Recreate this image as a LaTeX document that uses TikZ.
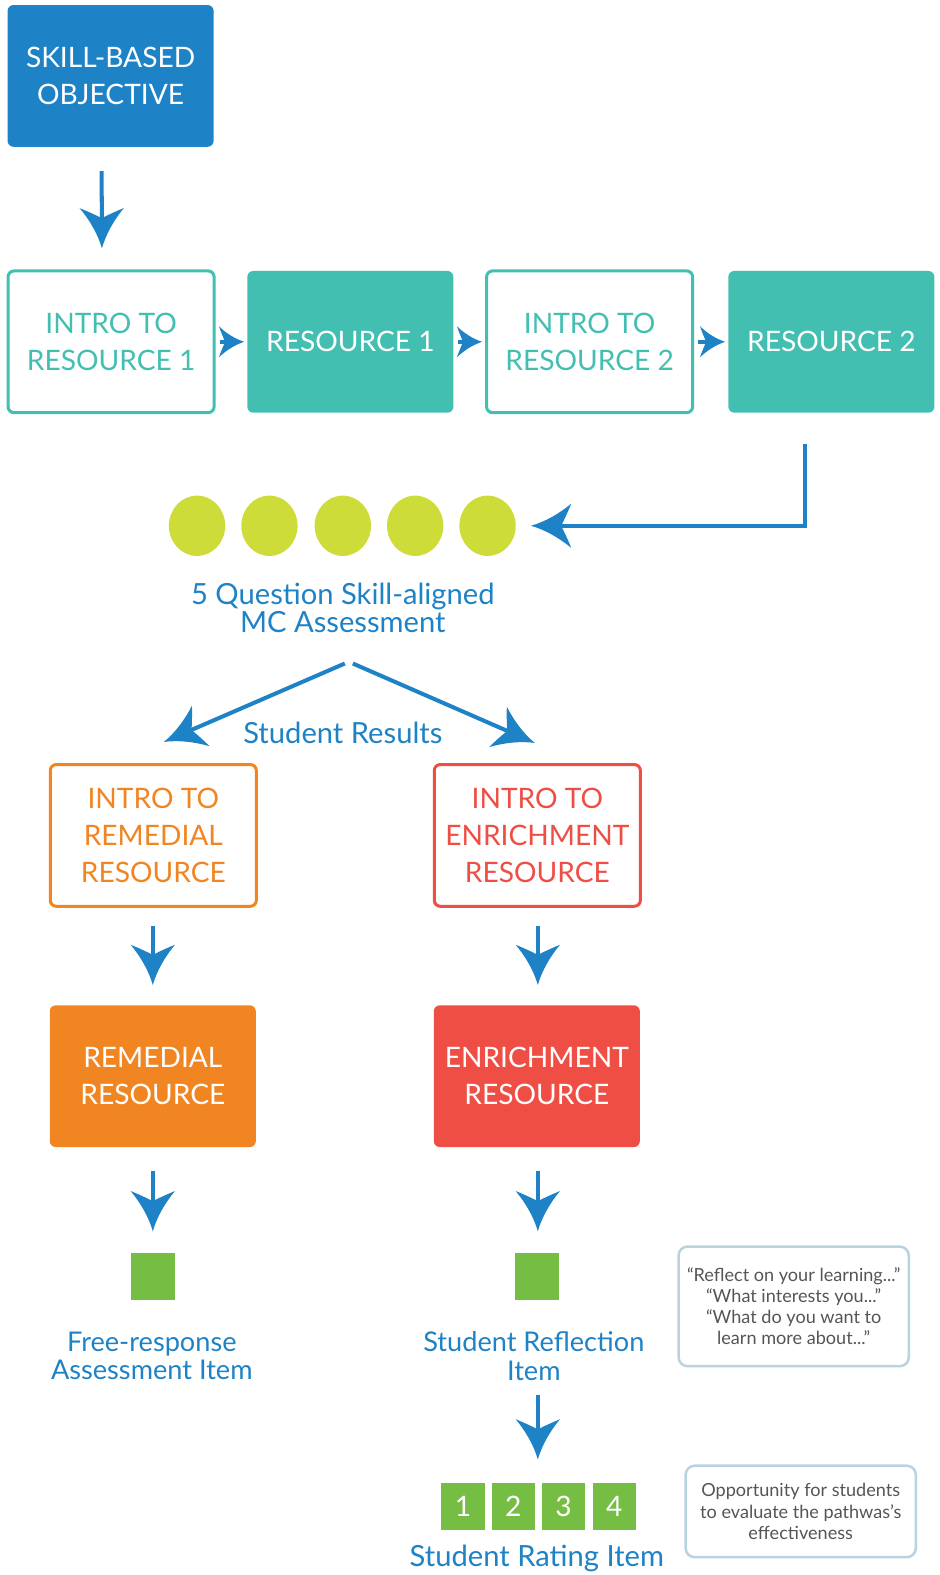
\documentclass[tikz,border=0pt]{standalone}
\usepackage{fontspec}
\setmainfont{Lato}
\usetikzlibrary{arrows.meta,shapes.geometric}
\definecolor{cblue}{HTML}{1E82C6}
\definecolor{cteal}{HTML}{43BFB1}
\definecolor{clime}{HTML}{CDDC39}
\definecolor{corange}{HTML}{F08522}
\definecolor{cred}{HTML}{EF4E45}
\definecolor{cgreen}{HTML}{76BE43}
\definecolor{cgrayb}{HTML}{B9D3E1}
\definecolor{cgrayt}{HTML}{555555}
\pgfdeclarearrow{
  name = BigTip,
  setup code = {
    \pgfarrowssettipend{0pt}
    \pgfarrowssetlineend{-28pt}
    \pgfarrowssetbackend{-40pt}
    \pgfarrowshullpoint{0pt}{0pt}
    \pgfarrowsupperhullpoint{-40pt}{22pt}
  },
  drawing code = {
    \pgfpathmoveto{\pgfpointorigin}
    \pgfpathcurveto{\pgfpoint{-14pt}{4pt}}{\pgfpoint{-28pt}{12pt}}{\pgfpoint{-40pt}{22pt}}
    \pgfpathcurveto{\pgfpoint{-36pt}{12pt}}{\pgfpoint{-32pt}{4pt}}{\pgfpoint{-30pt}{0pt}}
    \pgfpathcurveto{\pgfpoint{-32pt}{-4pt}}{\pgfpoint{-36pt}{-12pt}}{\pgfpoint{-40pt}{-22pt}}
    \pgfpathcurveto{\pgfpoint{-28pt}{-12pt}}{\pgfpoint{-14pt}{-4pt}}{\pgfpointorigin}
    \pgfpathclose
    \pgfusepathqfill
  }
}
\pgfdeclarearrow{
  name = SmallTip,
  setup code = {
    \pgfarrowssettipend{0pt}
    \pgfarrowssetlineend{-17pt}
    \pgfarrowssetbackend{-25pt}
    \pgfarrowshullpoint{0pt}{0pt}
    \pgfarrowsupperhullpoint{-25pt}{15.5pt}
  },
  drawing code = {
    \pgfpathmoveto{\pgfpointorigin}
    \pgfpathcurveto{\pgfpoint{-9pt}{3pt}}{\pgfpoint{-18pt}{8.5pt}}{\pgfpoint{-25pt}{15.5pt}}
    \pgfpathcurveto{\pgfpoint{-22.5pt}{8pt}}{\pgfpoint{-20pt}{3pt}}{\pgfpoint{-19pt}{0pt}}
    \pgfpathcurveto{\pgfpoint{-20pt}{-3pt}}{\pgfpoint{-22.5pt}{-8pt}}{\pgfpoint{-25pt}{-15.5pt}}
    \pgfpathcurveto{\pgfpoint{-18pt}{-8.5pt}}{\pgfpoint{-9pt}{-3pt}}{\pgfpointorigin}
    \pgfpathclose
    \pgfusepathqfill
  }
}
\begin{document}
\begin{tikzpicture}[x=1pt,y=-1pt,
  box/.style={rounded corners=6pt, minimum width=205pt, minimum height=141pt, align=center, inner sep=0pt, font=\fontsize{28}{37}\selectfont},
  obox/.style={box, line width=3pt, fill=white},
  arr/.style={draw=cblue, line width=4pt, -{BigTip[]}},
  sarr/.style={draw=cblue, line width=4pt, -{SmallTip[]}, shorten <=4pt, shorten >=3pt},
  lbl/.style={align=center, text=cblue, inner sep=0pt, font=\fontsize{27}{28}\selectfont},
  blbl/.style={lbl, font=\fontsize{29}{28}\selectfont},
  gsq/.style={fill=cgreen, minimum width=44pt, minimum height=47pt, inner sep=0pt},
  rsq/.style={fill=cgreen, minimum width=43pt, minimum height=47pt, inner sep=0pt, text=white, font=\fontsize{28}{28}\selectfont},
  note/.style={draw=cgrayb, line width=2.5pt, rounded corners=9pt, minimum width=229pt, align=center, inner sep=0pt, text=cgrayt, font=\fontsize{18}{21}\selectfont},
  dot/.style={ellipse, fill=clime, minimum width=56pt, minimum height=60pt, inner sep=0pt}
]
\useasboundingbox (0,0) rectangle (935,1566.7);

% top objective
\node[box, fill=cblue, text=white] (obj) at (110,75.5) {SKILL-BASED\\OBJECTIVE};

% row of resources
\node[obox, draw=cteal, text=cteal] (i1) at (110.5,340) {INTRO TO\\RESOURCE 1};
\node[box, fill=cteal, text=white] (r1) at (348.5,340) {RESOURCE 1};
\node[obox, draw=cteal, text=cteal] (i2) at (586.5,340) {INTRO TO\\RESOURCE 2};
\node[box, fill=cteal, text=white] (r2) at (827,340) {RESOURCE 2};

\draw[arr, shorten <=24pt, shorten >=21pt] ([xshift=-9pt]obj.south) -- ([xshift=-9pt]i1.north);
\draw[sarr] (i1.east) -- (r1.west);
\draw[sarr] (r1.east) -- (i2.west);
\draw[sarr] (i2.east) -- (r2.west);

% assessment dots
\node[dot] (c1) at (196,523) {};
\node[dot] (c2) at (268,523) {};
\node[dot] (c3) at (341,523) {};
\node[dot] (c4) at (413,523) {};
\node[dot] (c5) at (485,523) {};
\draw[arr, shorten <=31pt, shorten >=15pt] ([xshift=-26pt]r2.south) |- (c5.east);

\node[blbl] (assess) at (341,605) {5 Question Skill-aligned\\MC Assessment};

% split
\coordinate (dl) at (343,660);
\coordinate (dr) at (351,660);
\coordinate (tl) at (163,738);
\coordinate (tr) at (532,739);
\draw[arr] (dl) -- (tl);
\draw[arr] (dr) -- (tr);
\node[blbl] (results) at (341,729) {Student Results};

% branches
\node[obox, draw=corange, text=corange] (ir) at (152.5,831) {INTRO TO\\REMEDIAL\\RESOURCE};
\node[obox, draw=cred, text=cred] (ie) at (534.5,831) {INTRO TO\\ENRICHMENT\\RESOURCE};
\node[box, fill=corange, text=white] (rr) at (152,1070.5) {REMEDIAL\\RESOURCE};
\node[box, fill=cred, text=white] (re) at (534,1070.5) {ENRICHMENT\\RESOURCE};

\draw[arr, shorten <=18pt, shorten >=20pt] ([xshift=-0.5pt]ir.south) -- (rr.north);
\draw[arr, shorten <=18pt, shorten >=20pt] ([xshift=0.5pt]ie.south) -- ([xshift=1pt]re.north);

\node[gsq] (s1) at (152,1269.5) {};
\node[gsq] (s2) at (534,1269.5) {};
\draw[arr, shorten <=24pt, shorten >=21pt] (rr.south) -- (s1.north);
\draw[arr, shorten <=24pt, shorten >=21pt] ([xshift=1pt]re.south) -- ([xshift=1pt]s2.north);

\node[lbl] (fr) at (151,1349) {Free-response\\Assessment Item};
\node[lbl] (sr) at (531,1349) {Student Reflection\\Item};

% rating
\node[rsq] (q1) at (460.5,1498.5) {1};
\node[rsq] (q2) at (510.5,1498.5) {2};
\node[rsq] (q3) at (560.5,1498.5) {3};
\node[rsq] (q4) at (611,1498.5) {4};
\draw[arr, shorten <=14pt, shorten >=23pt] ([xshift=4pt]sr.south) -- ([xshift=-25.5pt]q3.north);
\node[blbl] (ri) at (534,1550) {Student Rating Item};

% notes
\node[note, minimum height=119pt] (n1) at (789.5,1299.5) {“Reflect on your learning...”\\“What interests you...”\\“What do you want to\\learn more about...”};
\node[note, minimum height=91pt] (n2) at (796.5,1503.5) {Opportunity for students\\to evaluate the pathwas’s\\effectiveness};
\end{tikzpicture}
\end{document}
